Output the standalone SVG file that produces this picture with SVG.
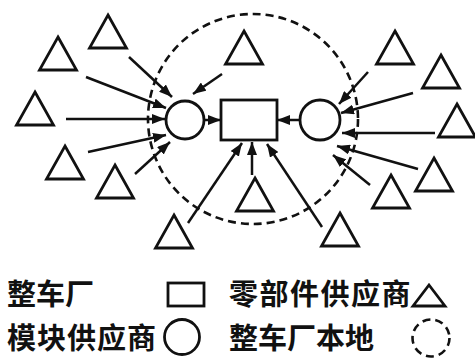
<svg xmlns="http://www.w3.org/2000/svg" xmlns:xlink="http://www.w3.org/1999/xlink" width="475" height="359" viewBox="0 0 475 359">
<style>
.sh{fill:none;stroke:#111;stroke-width:2.8}
.dash{fill:none;stroke:#111;stroke-width:2.6;stroke-dasharray:8 5}
.ar{stroke:#111;stroke-width:2.5;fill:none;marker-end:url(#ah)}
.t{font-family:"Noto Sans CJK SC","Noto Sans",sans-serif;font-size:29px;fill:#111;font-weight:700}
</style>
<defs>
<marker id="ah" markerUnits="userSpaceOnUse" markerWidth="13" markerHeight="10" refX="13" refY="5" orient="auto">
<path d="M0,0 L13,5 L0,10 z" fill="#111"/>
</marker>
<path id="tri" d="M0,0 L18.5,33 L-18.5,33 z" class="sh"/>
</defs>
<rect width="475" height="359" fill="#fff"/>
<g id="local-area"><circle cx="253" cy="119" r="105" class="dash"/></g>
<g id="connectors">
<line x1="129" y1="57" x2="172" y2="97" class="ar"/>
<line x1="86" y1="77" x2="166" y2="108" class="ar"/>
<line x1="66" y1="119" x2="165" y2="119" class="ar"/>
<line x1="88" y1="152" x2="166" y2="135" class="ar"/>
<line x1="135" y1="174" x2="170" y2="142" class="ar"/>
<line x1="222" y1="74" x2="193" y2="94" class="ar"/>
<line x1="368" y1="72" x2="339" y2="104" class="ar"/>
<line x1="413" y1="93" x2="341" y2="113" class="ar"/>
<line x1="435" y1="133" x2="342" y2="133" class="ar"/>
<line x1="418" y1="169" x2="337" y2="146" class="ar"/>
<line x1="370" y1="185" x2="333" y2="155" class="ar"/>
<line x1="188" y1="223" x2="242" y2="143" class="ar"/>
<line x1="252" y1="175" x2="252" y2="142" class="ar"/>
<line x1="322" y1="227" x2="267" y2="144" class="ar"/>
<line x1="204" y1="120" x2="221" y2="120" class="ar"/>
<line x1="300" y1="120" x2="277" y2="120" class="ar"/>
</g>
<g id="factory"><rect x="221" y="100" width="56" height="40" class="sh"/></g>
<g id="module-left"><circle cx="185" cy="120" r="19" class="sh"/></g>
<g id="module-right"><circle cx="320" cy="120" r="20" class="sh"/></g>
<g id="sup-A"><use xlink:href="#tri" x="108" y="15"/></g>
<g id="sup-B"><use xlink:href="#tri" x="58" y="37"/></g>
<g id="sup-C"><use xlink:href="#tri" x="35" y="92"/></g>
<g id="sup-D"><use xlink:href="#tri" x="65" y="146"/></g>
<g id="sup-E"><use xlink:href="#tri" x="115" y="165"/></g>
<g id="sup-F"><use xlink:href="#tri" x="174" y="215"/></g>
<g id="sup-G"><use xlink:href="#tri" x="244" y="31"/></g>
<g id="sup-H"><use xlink:href="#tri" x="255" y="178"/></g>
<g id="sup-N"><use xlink:href="#tri" x="395" y="31"/></g>
<g id="sup-O"><use xlink:href="#tri" x="441" y="55"/></g>
<g id="sup-P"><use xlink:href="#tri" x="457" y="104"/></g>
<g id="sup-M"><use xlink:href="#tri" x="434" y="158"/></g>
<g id="sup-L"><use xlink:href="#tri" x="391" y="175"/></g>
<g id="sup-K"><use xlink:href="#tri" x="340" y="213"/></g>
<g id="legend">
<text x="7" y="305" class="t">整车厂</text>
<rect x="168" y="283" width="36" height="23" class="sh"/>
<text x="229" y="305" class="t" letter-spacing="1.5">零部件供应商</text>
<path d="M429,285 L445,306 L413,306 z" class="sh"/>
<text x="7" y="349" class="t" letter-spacing="1">模块供应商</text>
<circle cx="182" cy="337" r="17.5" class="sh"/>
<text x="229" y="349" class="t">整车厂本地</text>
<circle cx="431" cy="338" r="18.5" class="dash" stroke-dasharray="7 5"/>
</g>
</svg>
